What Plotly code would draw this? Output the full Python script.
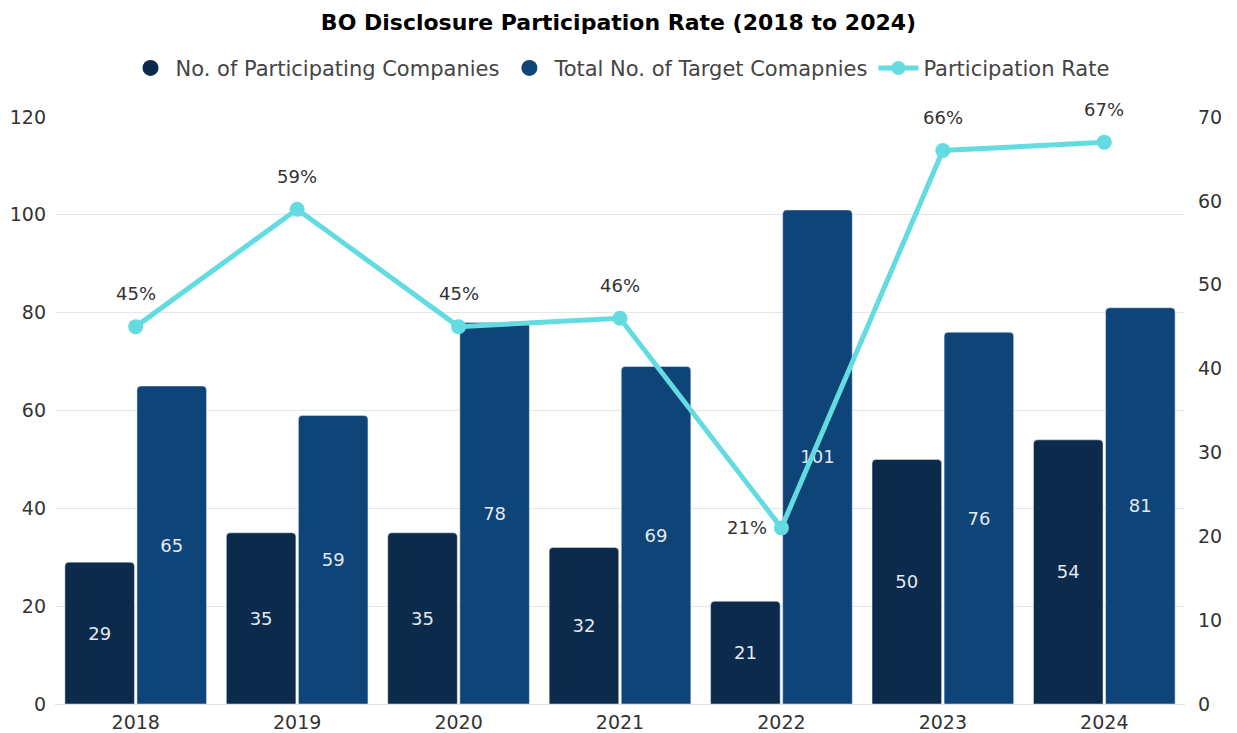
import plotly.graph_objects as go

years = ["2018", "2019", "2020", "2021", "2022", "2023", "2024"]
participating = [29, 35, 35, 32, 21, 50, 54]
target_total = [65, 59, 78, 69, 101, 76, 81]
rate_pct = [45, 59, 45, 46, 21, 66, 67]

DARK = "#0B2A4C"
BLUE = "#0F4478"
TEAL = "#62DCE0"
FONT = "DejaVu Sans"

fig = go.Figure()

fig.add_trace(go.Bar(
    x=years, y=participating, name="No. of Participating Companies",
    marker=dict(color=DARK), text=participating, textposition="inside",
    insidetextanchor="middle", textangle=0,
    textfont=dict(size=18, color="#E4E8F0", family=FONT),
    showlegend=False,
))
fig.add_trace(go.Bar(
    x=years, y=target_total, name="Total No. of Target Comapnies",
    marker=dict(color=BLUE), text=target_total, textposition="inside",
    insidetextanchor="middle", textangle=0,
    textfont=dict(size=18, color="#E4E8F0", family=FONT),
    showlegend=False,
))
fig.add_trace(go.Scatter(
    x=years, y=rate_pct, name="Participation Rate", yaxis="y2",
    mode="lines+markers", line=dict(color=TEAL, width=5),
    marker=dict(color=TEAL, size=15), showlegend=False,
))

# legend entries drawn with round markers
fig.add_trace(go.Scatter(x=years[:1], y=[None], mode="markers", name="No. of Participating Companies",
                         marker=dict(color=DARK, size=22, symbol="circle")))
fig.add_trace(go.Scatter(x=years[:1], y=[None], mode="markers", name="Total No. of Target Comapnies",
                         marker=dict(color=BLUE, size=22, symbol="circle")))
fig.add_trace(go.Scatter(x=years[:1], y=[None], mode="lines+markers", name="Participation Rate",
                         yaxis="y2", line=dict(color=TEAL, width=5), marker=dict(color=TEAL, size=14)))

# percentage labels for the rate line (category index positions)
for i, v in enumerate(rate_pct):
    below = v == min(rate_pct)
    fig.add_annotation(
        x=i, y=v, xref="x", yref="y2", text=f"{v}%", showarrow=False,
        xshift=-34 if below else 0, yshift=0 if below else 33,
        font=dict(size=18, color="#333333", family=FONT),
    )

fig.update_layout(
    width=1237, height=733,
    paper_bgcolor="white", plot_bgcolor="white",
    font=dict(family=FONT, color="#333333"),
    margin=dict(l=55, r=52, t=117, b=29),
    title=dict(text="<b>BO Disclosure Participation Rate (2018 to 2024)</b>",
               x=0.5, xanchor="center", y=0.97, yanchor="middle",
               font=dict(size=22, color="#000000", family=FONT)),
    legend=dict(orientation="h", x=0.5, xanchor="center", y=1.083, yanchor="middle",
                font=dict(size=21, color="#444444", family=FONT), itemwidth=40),
    barmode="group", bargap=0.107, bargroupgap=0.035, barcornerradius=4,
    xaxis=dict(type="category", categoryorder="array", categoryarray=years,
               range=[-0.5, len(years) - 0.5], automargin=False,
               showgrid=False, showline=False, ticklabelstandoff=5,
               tickfont=dict(size=19, color="#333333"), ticks=""),
    yaxis=dict(range=[0, 120], dtick=20, showgrid=True, gridcolor="#E6E6E6",
               zeroline=True, zerolinecolor="#E0E0E0", zerolinewidth=1,
               automargin=False, ticklabelstandoff=8,
               tickfont=dict(size=19, color="#333333")),
    yaxis2=dict(range=[0, 70], dtick=10, overlaying="y", side="right",
                showgrid=False, zeroline=False, automargin=False, ticklabelstandoff=12,
                tickfont=dict(size=19, color="#333333")),
)

fig.write_html("out.html")
